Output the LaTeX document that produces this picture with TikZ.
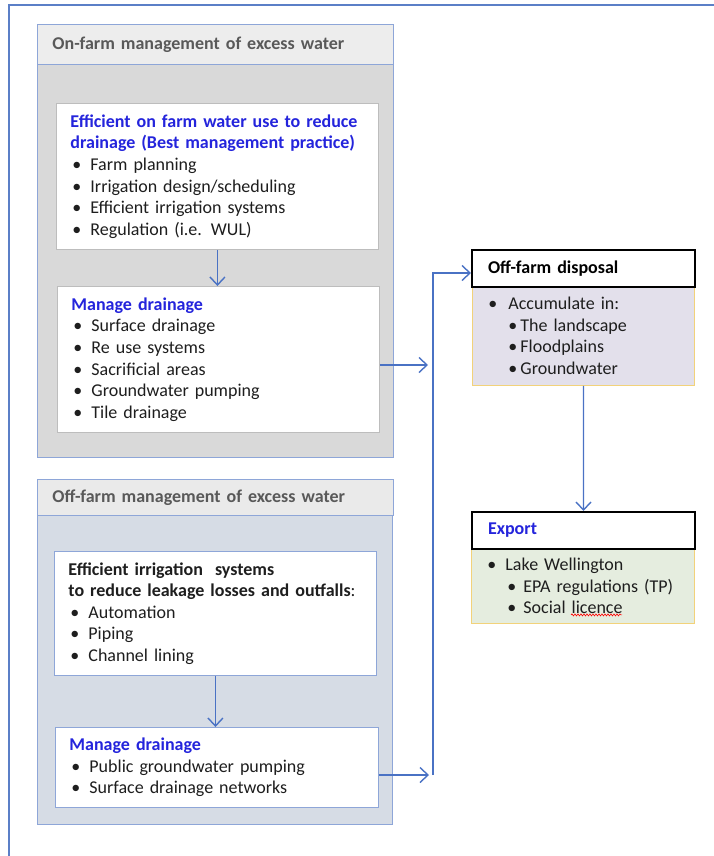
\documentclass[tikz,border=0pt]{standalone}
\usepackage{fontspec}
\setmainfont{Carlito}
\usepackage{xcolor}
\usetikzlibrary{arrows.meta,decorations.pathmorphing}
\newcommand{\itm}{\hspace*{2pt}\makebox[18pt][l]{•}}
\newcommand{\subitm}[1]{\hspace*{20pt}\makebox[#1][l]{•}}

\begin{document}
\begin{tikzpicture}[
  x=1pt, y=-1pt,
  font=\fontsize{18}{21.6}\selectfont,
  panel/.style={rectangle, draw=panelBorder, line width=0.9pt, anchor=north west,
    inner sep=0pt},
  panelhead/.style={rectangle, draw=panelBorder, line width=0.9pt, anchor=north west,
    align=left, text width=326pt, inner xsep=15pt, inner ysep=0pt,
    font=\fontsize{18}{21.6}\selectfont\bfseries, text=headText},
  box/.style={rectangle, fill=white, line width=0.9pt, anchor=north west,
    align=left, inner xsep=14pt, inner ysep=0pt, text=bodyText},
  sidehead/.style={rectangle, fill=white, draw=black, line width=2pt, anchor=north west,
    align=left, text width=191pt, inner xsep=16pt, inner ysep=0pt,
    minimum height=37pt, font=\fontsize{18}{21.6}\selectfont\bfseries},
  sidebody/.style={rectangle, draw=sideBorder, line width=0.9pt, anchor=north west,
    align=left, inner xsep=16pt, inner ysep=0pt, text=bodyText},
  flow/.style={-{Straight Barb[length=8pt, width=15pt]}, line width=1.4pt, draw=flowBlue},
  spell/.style={draw=red, line width=0.6pt, decorate,
    decoration={snake, amplitude=1pt, segment length=3pt}},
]
\definecolor{frameBlue}{HTML}{5B7FC7}
\definecolor{panelBorder}{HTML}{8EA6D8}
\definecolor{onHead}{HTML}{EDEDED}
\definecolor{onBody}{HTML}{D9D9D9}
\definecolor{offHead}{HTML}{EAEAEA}
\definecolor{offBody}{HTML}{D6DCE5}
\definecolor{innerGray}{HTML}{BDBDBD}
\definecolor{innerBlue}{HTML}{8EA6D8}
\definecolor{headText}{HTML}{595959}
\definecolor{bodyText}{HTML}{1E1E1E}
\definecolor{titleBlue}{HTML}{2424DC}
\definecolor{flowBlue}{HTML}{4A72C4}
\definecolor{sideBorder}{HTML}{F2D27A}
\definecolor{disposalFill}{HTML}{E3E0EB}
\definecolor{exportFill}{HTML}{E5EDDF}

\useasboundingbox (0,0) rectangle (714,856);
\draw[frameBlue, line width=1.8pt] (714,5) -| (9,856);

% on-farm panel
\node[panel, fill=onBody, minimum width=356pt, minimum height=433pt] (onfarm) at (37,24) {};
\node[panelhead, fill=onHead, minimum height=40pt] (onhead) at (37,24)
  {On-farm management of excess water};
\node[box, draw=innerGray, text width=294pt, minimum height=146pt] (bmp) at (56,103)
  {{\color{titleBlue}\bfseries Efficient on farm water use to reduce\\
    drainage (Best management practice)}\\
   \itm Farm planning\\
   \itm Irrigation design/scheduling\\
   \itm Efficient irrigation systems\\
   \itm Regulation (i.e. WUL)};
\node[box, draw=innerGray, text width=294pt, minimum height=146pt] (ondrain) at (57,286)
  {{\color{titleBlue}\bfseries Manage drainage}\\
   \itm Surface drainage\\
   \itm Re use systems\\
   \itm Sacrificial areas\\
   \itm Groundwater pumping\\
   \itm Tile drainage};

% off-farm panel
\node[panel, fill=offBody, minimum width=355pt, minimum height=345pt] (offfarm) at (37,479) {};
\node[panelhead, fill=offHead, minimum height=36pt] (offhead) at (37,479)
  {Off-farm management of excess water};
\node[box, draw=innerBlue, text width=294pt, minimum height=124pt] (systems) at (54,551)
  {{\bfseries Efficient irrigation\ \ systems\\
    to reduce leakage losses and outfalls}:\\
   \itm Automation\\
   \itm Piping\\
   \itm Channel lining};
\node[box, draw=innerBlue, text width=295pt, minimum height=80pt] (offdrain) at (55,727)
  {{\color{titleBlue}\bfseries Manage drainage}\\
   \itm Public groundwater pumping\\
   \itm Surface drainage networks};

% disposal and export
\node[sidebody, fill=disposalFill, text width=190pt, minimum height=99pt] (disposal) at (472,286)
  {\makebox[20pt][l]{•}Accumulate in:\\
   \subitm{12pt}The landscape\\
   \subitm{12pt}Floodplains\\
   \subitm{12pt}Groundwater};
\node[sidehead] (disphead) at (471,249) {Off-farm disposal};
\node[sidebody, fill=exportFill, text width=191pt, minimum height=75pt] (export) at (471,548)
  {\makebox[18pt][l]{•}Lake Wellington\\
   \subitm{16pt}EPA regulations (TP)\\
   \subitm{16pt}Social licence};
\node[sidehead, text=titleBlue] (exphead) at (471,511) {Export};
\draw[spell] ([shift={(100pt,9pt)}]export.south west) -- ++(51,0);

\coordinate (drainin) at (428,365);
\coordinate (offin) at (429,775);
\coordinate (busbot) at (433,775);

\draw[flow] (bmp.south) -- (bmp.south |- ondrain.north);
\draw[flow] (systems.south) -- (systems.south |- offdrain.north);
\draw[flow] (ondrain.east |- drainin) -- (drainin);
\draw[flow] (offdrain.east |- offin) -- (offin);
\draw[flow] (busbot) |- ([yshift=-4.5pt]disphead.west);
\draw[flow] (disposal.south) -- (exphead.north);
\end{tikzpicture}
\end{document}
